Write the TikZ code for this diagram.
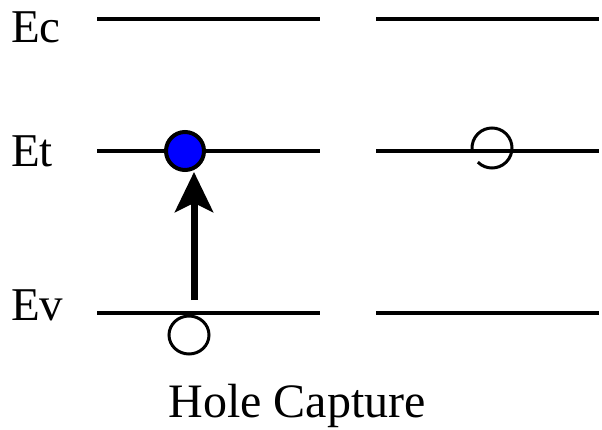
\documentclass[tikz,border=0pt]{standalone}
\usepackage{fontspec}
\setmainfont{Liberation Serif}
\usetikzlibrary{arrows.meta}
\begin{document}
\begin{tikzpicture}[x=1pt,y=-1pt,
  level/.style={line width=4pt},
  lbl/.style={anchor=base west,inner sep=0pt,font=\fontsize{47}{47}\selectfont},
  holecirc/.style={draw=black,line width=3pt,fill=white},
  elec/.style={circle,draw=black,line width=4pt,fill=blue,minimum size=38pt,inner sep=0pt}]
\useasboundingbox (0,0) rectangle (602,430);
% energy level end points
\coordinate (c1a) at (97,19);  \coordinate (c1b) at (320,19);
\coordinate (c2a) at (376,19); \coordinate (c2b) at (599,19);
\coordinate (t1a) at (97,151); \coordinate (t1b) at (320,151);
\coordinate (t2a) at (376,151);\coordinate (t2b) at (599,151);
\coordinate (v1a) at (97,313); \coordinate (v1b) at (320,313);
\coordinate (v2a) at (376,313);\coordinate (v2b) at (599,313);
\draw[level] (c1a) -- (c1b);
\draw[level] (c2a) -- (c2b);
\draw[level] (t1a) -- (t1b);
\draw[level] (t2a) -- (t2b);
\draw[level] (v1a) -- (v1b);
\draw[level] (v2a) -- (v2b);
% labels
\node[lbl] (ec) at (11,43) {Ec};
\node[lbl] (et) at (11,167) {Et};
\node[lbl] (ev) at (11,320) {Ev};
\node[anchor=base,inner sep=0pt,font=\fontsize{48}{48}\selectfont] (title) at (297,417) {Hole Capture};
% electron on trap
\node[elec] (el) at (185,151) {};
% hole in valence band
\draw[holecirc] (189,335) ellipse [x radius=20, y radius=19];
\node[inner sep=0pt,minimum size=0pt] (h) at (189,335) {};
% arrow
\coordinate (a0) at (194,300);
\coordinate (a1) at (194,172);
\draw[line width=7pt,-{Stealth[length=40pt,width=38pt,inset=9pt]}] (a0) -- (a1);
% empty trap (open circle)
\draw[line width=3pt] (492,148) ++(135:20) arc[start angle=135,end angle=-185,radius=20];
\end{tikzpicture}
\end{document}
